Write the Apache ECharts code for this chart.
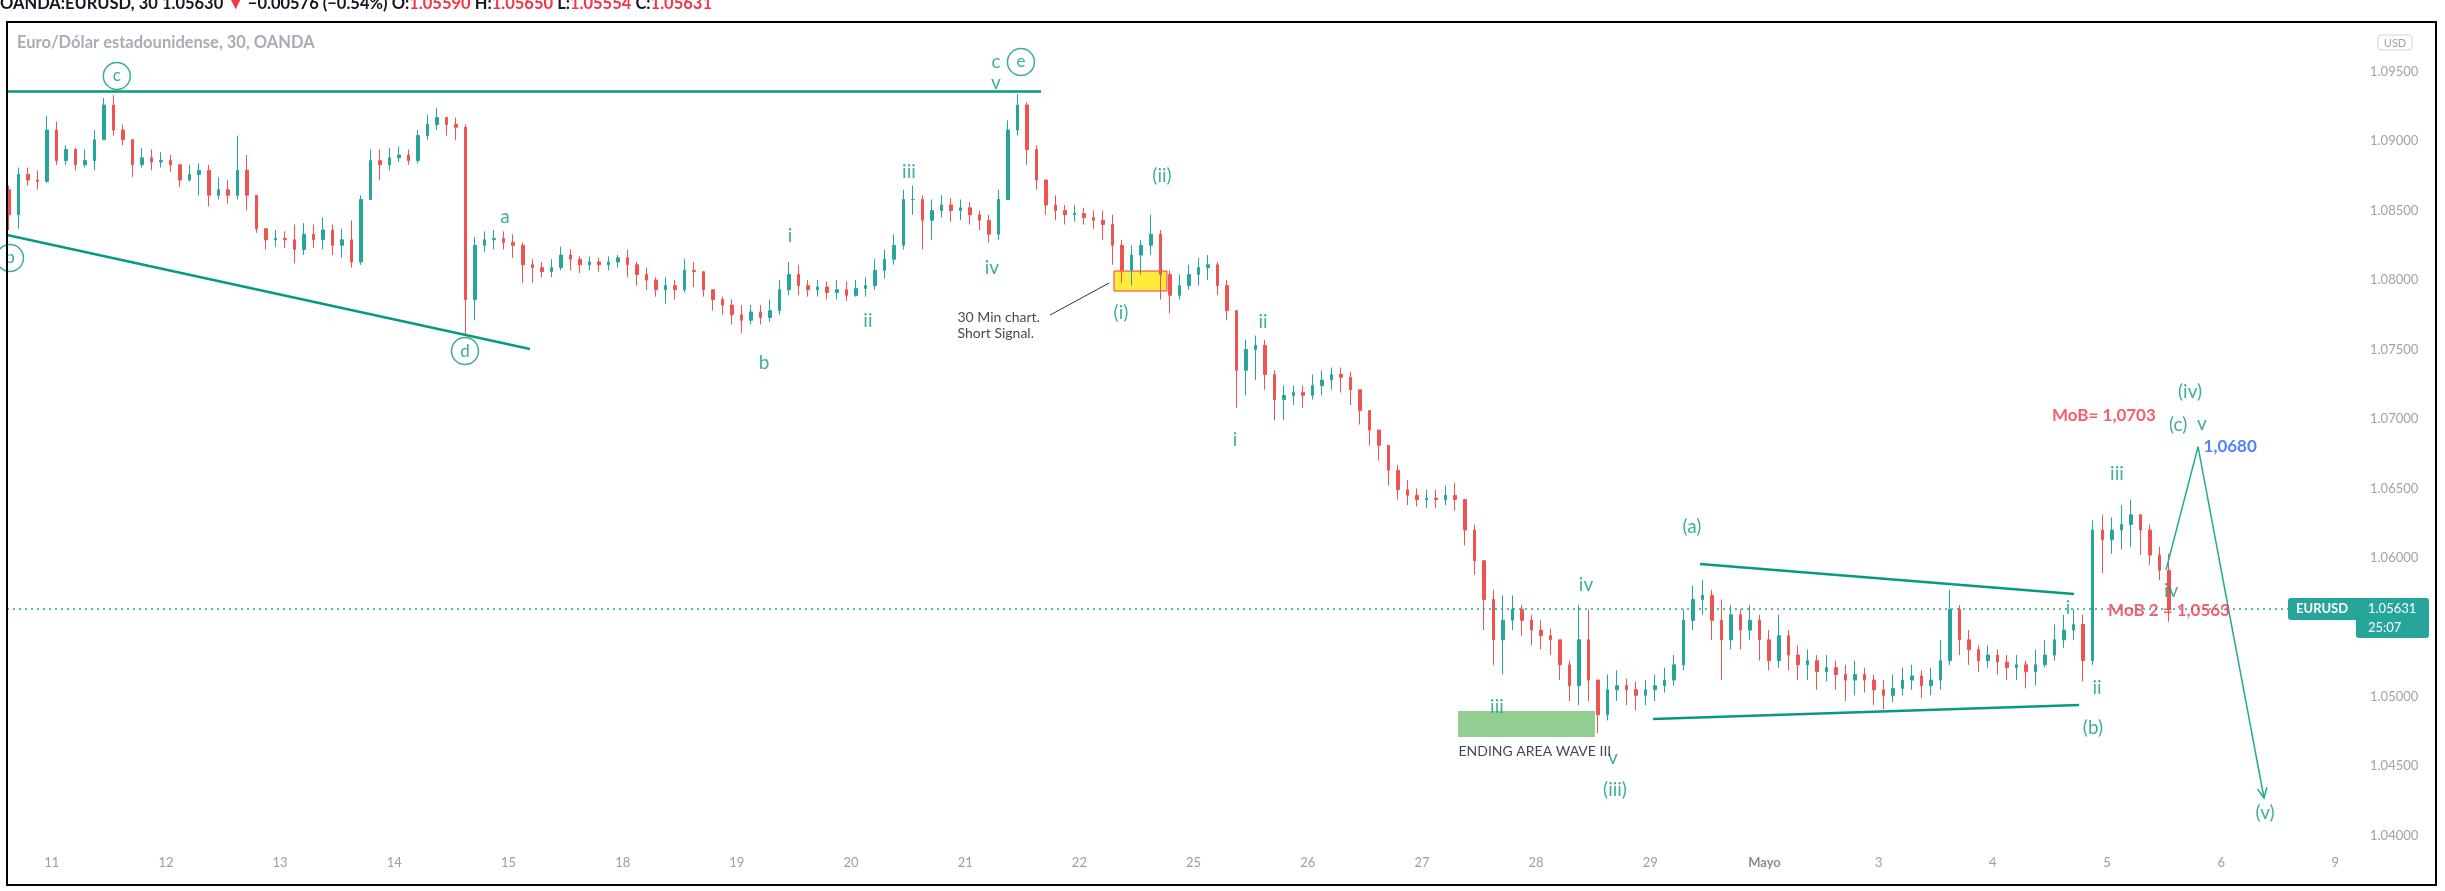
<!DOCTYPE html>
<html><head><meta charset="utf-8">
<script src="https://cdn.jsdelivr.net/npm/echarts@6/dist/echarts.min.js"></script>
<style>html,body{margin:0;padding:0;background:#fff}#c{width:2445px;height:891px}</style>
</head><body><div id="c"></div>
<script>
// ---------- DATA ----------
const dayLabels = ['11','12','13','14','15','18','19','20','21','22','25','26','27','28','29','Mayo','3','4','5','6','9'];
const priceTicks = [1.040,1.045,1.050,1.055,1.060,1.065,1.070,1.075,1.080,1.085,1.090,1.095];
const firstSlot = -5;          // 2-hour slots, 12 per trading day, slot 0 = start of "11"
const firstOpen = 1.0865;
const closes = [
 1.0847,1.0876,1.0872,1.0871,1.0908,
 1.0886,1.0894,1.0883,1.0886,1.0901,1.0926,1.0908,1.0901,1.0883,1.0888,1.0885,1.0886,
 1.0883,1.0872,1.0876,1.0879,1.0861,1.0865,1.0861,1.0879,1.0861,1.0837,1.0829,1.0830,
 1.0829,1.0822,1.0833,1.0829,1.0836,1.0825,1.0829,1.0813,1.0858,1.0886,1.0883,1.0888,
 1.0890,1.0886,1.0904,1.0912,1.0917,1.0912,1.0910,1.0786,1.0825,1.0829,1.0830,1.0827,
 1.0825,1.0811,1.0809,1.0806,1.0809,1.0818,1.0815,1.0811,1.0813,1.0811,1.0813,1.0816,
 1.0811,1.0804,1.0800,1.0793,1.0796,1.0793,1.0807,1.0806,1.0793,1.0786,1.0782,1.0775,
 1.0771,1.0777,1.0773,1.0778,1.0793,1.0804,1.0796,1.0793,1.0795,1.0791,1.0793,1.0789,
 1.0794,1.0796,1.0807,1.0815,1.0825,1.0858,1.0858,1.0843,1.0850,1.0854,1.0850,1.0852,
 1.0847,1.0843,1.0833,1.0858,1.0908,1.0926,1.0894,1.0872,1.0854,1.0850,1.0847,1.0848,
 1.0845,1.0843,1.0840,1.0825,1.0807,1.0818,1.0825,1.0833,1.0804,1.0789,1.0796,1.0804,
 1.0809,1.0811,1.0796,1.0778,1.0735,1.0750,1.0753,1.0732,1.0714,1.0717,1.0719,1.0717,
 1.0724,1.0728,1.0732,1.0730,1.0721,1.0706,1.0692,1.0681,1.0663,1.0649,1.0645,1.0642,
 1.0643,1.0642,1.0645,1.0642,1.0620,1.0598,1.0570,1.0541,1.0555,1.0563,1.0555,1.0548,
 1.0544,1.0541,1.0523,1.0508,1.0541,1.0512,1.0487,1.0505,1.0508,1.0505,1.0501,1.0505,
 1.0508,1.0512,1.0523,1.0555,1.0570,1.0573,1.0555,1.0541,1.0559,1.0548,1.0555,1.0541,
 1.0526,1.0544,1.0530,1.0523,1.0526,1.0518,1.0521,1.0516,1.0512,1.0516,1.0512,1.0505,
 1.0501,1.0506,1.0512,1.0515,1.0508,1.0512,1.0526,1.0563,1.0541,1.0534,1.0526,1.0530,
 1.0525,1.0521,1.0523,1.0518,1.0523,1.0530,1.0541,1.0548,1.0552,1.0526,1.0620,1.0613,
 1.0620,1.0624,1.0631,1.0620,1.0602,1.0591,1.05631
];
const highs = [
 1.0868,1.0881,1.0881,1.0879,1.0918,
 1.0914,1.0897,1.0895,1.0894,1.0908,1.0931,1.0933,1.0912,1.0901,1.0895,1.0894,1.0892,
 1.0890,1.0883,1.0883,1.0884,1.0883,1.0874,1.0872,1.0904,1.0890,1.0861,1.0837,1.0836,
 1.0835,1.0840,1.0841,1.0840,1.0845,1.0840,1.0837,1.0843,1.0861,1.0894,1.0894,1.0895,
 1.0896,1.0894,1.0908,1.0919,1.0924,1.0917,1.0917,1.0912,1.0831,1.0835,1.0836,1.0835,
 1.0833,1.0827,1.0815,1.0813,1.0815,1.0824,1.0822,1.0817,1.0817,1.0816,1.0817,1.0818,
 1.0822,1.0813,1.0809,1.0802,1.0802,1.0800,1.0815,1.0813,1.0805,1.0793,1.0788,1.0786,
 1.0782,1.0782,1.0782,1.0786,1.0800,1.0813,1.0811,1.0800,1.0800,1.0799,1.0800,1.0799,
 1.0800,1.0802,1.0815,1.0822,1.0833,1.0865,1.0868,1.0861,1.0858,1.0861,1.0859,1.0858,
 1.0856,1.0850,1.0847,1.0865,1.0915,1.0934,1.0928,1.0897,1.0872,1.0861,1.0854,1.0854,
 1.0852,1.0850,1.0850,1.0847,1.0829,1.0825,1.0829,1.0847,1.0836,1.0807,1.0804,1.0811,
 1.0816,1.0818,1.0813,1.0800,1.0778,1.0757,1.0760,1.0757,1.0735,1.0724,1.0724,1.0724,
 1.0732,1.0735,1.0737,1.0737,1.0734,1.0717,1.0706,1.0692,1.0681,1.0667,1.0656,1.0650,
 1.0649,1.0649,1.0652,1.0654,1.0642,1.0624,1.0598,1.0577,1.0573,1.0573,1.0566,1.0559,
 1.0555,1.0549,1.0541,1.0526,1.0566,1.0563,1.0512,1.0516,1.0519,1.0513,1.0511,1.0512,
 1.0516,1.0521,1.0530,1.0563,1.0580,1.0584,1.0577,1.0570,1.0566,1.0563,1.0566,1.0559,
 1.0548,1.0559,1.0548,1.0537,1.0534,1.0530,1.0530,1.0526,1.0523,1.0526,1.0521,1.0516,
 1.0512,1.0516,1.0521,1.0523,1.0519,1.0521,1.0541,1.0577,1.0566,1.0548,1.0537,1.0537,
 1.0534,1.0530,1.0530,1.0526,1.0534,1.0541,1.0552,1.0559,1.0563,1.0559,1.0627,1.0631,
 1.0629,1.0638,1.0642,1.0631,1.0624,1.0608,1.0603
];
const lows = [
 1.0836,1.0837,1.0868,1.0865,1.0870,
 1.0883,1.0883,1.0879,1.0881,1.0879,1.0901,1.0904,1.0897,1.0874,1.0881,1.0879,1.0881,
 1.0878,1.0867,1.0871,1.0861,1.0853,1.0858,1.0855,1.0858,1.0850,1.0834,1.0822,1.0824,
 1.0823,1.0812,1.0818,1.0823,1.0822,1.0818,1.0816,1.0809,1.0811,1.0858,1.0872,1.0879,
 1.0885,1.0883,1.0884,1.0901,1.0908,1.0904,1.0901,1.0760,1.0771,1.0820,1.0822,1.0822,
 1.0816,1.0798,1.0798,1.0802,1.0802,1.0807,1.0807,1.0805,1.0807,1.0806,1.0807,1.0809,
 1.0802,1.0796,1.0793,1.0788,1.0783,1.0786,1.0791,1.0795,1.0788,1.0778,1.0775,1.0768,
 1.0762,1.0768,1.0768,1.0770,1.0775,1.0789,1.0789,1.0788,1.0788,1.0786,1.0786,1.0785,
 1.0788,1.0788,1.0793,1.0801,1.0811,1.0822,1.0847,1.0822,1.0829,1.0845,1.0842,1.0843,
 1.0840,1.0836,1.0827,1.0829,1.0858,1.0904,1.0883,1.0865,1.0847,1.0843,1.0840,1.0842,
 1.0840,1.0837,1.0829,1.0811,1.0798,1.0796,1.0804,1.0818,1.0786,1.0776,1.0786,1.0793,
 1.0796,1.0800,1.0789,1.0771,1.0708,1.0717,1.0728,1.0721,1.0699,1.0699,1.0710,1.0708,
 1.0714,1.0717,1.0721,1.0719,1.0710,1.0696,1.0681,1.0670,1.0652,1.0642,1.0638,1.0637,
 1.0636,1.0636,1.0638,1.0634,1.0609,1.0588,1.0548,1.0523,1.0516,1.0548,1.0544,1.0537,
 1.0534,1.0530,1.0512,1.0497,1.0494,1.0497,1.0474,1.0483,1.0497,1.0494,1.0490,1.0494,
 1.0497,1.0503,1.0508,1.0519,1.0548,1.0559,1.0541,1.0512,1.0534,1.0534,1.0541,1.0526,
 1.0519,1.0521,1.0519,1.0512,1.0512,1.0505,1.0511,1.0505,1.0497,1.0501,1.0503,1.0494,
 1.0491,1.0496,1.0501,1.0505,1.0499,1.0501,1.0505,1.0523,1.0530,1.0523,1.0518,1.0521,
 1.0516,1.0512,1.0512,1.0506,1.0508,1.0521,1.0526,1.0535,1.0541,1.0511,1.0523,1.0589,
 1.0603,1.0606,1.0608,1.0602,1.0595,1.0584,1.0554
];
const lastPrice = 1.05631;

// annotations in chart coordinates [dayIndex, price, text]
const waveLabels = [
 [3.969,1.08454,'a'],[6.238,1.07403,'b'],[6.465,1.08317,'i'],[7.148,1.07705,'ii'],
 [7.507,1.08778,'iii'],[8.234,1.08087,'iv'],[8.269,1.0957,'c'],[8.269,1.09419,'v'],
 [9.723,1.08749,'(ii)'],[9.364,1.07763,'(i)'],[10.608,1.07698,'ii'],[10.363,1.06849,'i'],
 [12.657,1.04926,'iii'],[13.673,1.04559,'v'],[13.691,1.04329,'(iii)'],[13.437,1.05805,'iv'],
 [14.365,1.06222,'(a)'],[17.658,1.05639,'i'],[17.912,1.05063,'ii'],[17.877,1.04775,'(b)'],
 [18.087,1.06604,'iii'],[18.561,1.05761,'iv'],[18.727,1.07194,'(iv)'],[18.622,1.06956,'(c)'],
 [18.832,1.06963,'v'],[19.384,1.04163,'(v)']
];
const circledLabels = [[0.570,1.09469,'c'],[-0.366,1.08159,'b'],[3.619,1.07489,'d'],[8.488,1.0957,'e']];
const noteLabels = [[7.928,1.07676,'30 Min chart.\nShort Signal.'],[12.316,1.04609,'ENDING AREA WAVE III']];
const redLabels = [[17.973,1.07028,'MoB= 1,0703'],[18.543,1.05624,'MoB 2 = 1,0563']];
const blueLabels = [[18.841,1.06805,'1,0680']];
const trendLines = [
 [[-0.392,1.0936],[8.664,1.0936]],
 [[-0.392,1.08324],[4.188,1.07504]],
 [[14.435,1.05956],[17.711,1.05740]],
 [[14.024,1.04840],[17.755,1.04940]]
];
const pointerLine = [[8.743,1.07748],[9.261,1.07979]];
const projection = [[18.517,1.05913],[18.797,1.0680],[19.375,1.04271]];
const yellowBox = [[9.303,1.08065],[9.767,1.07921]];
const greenBox = [[12.316,1.04898],[13.516,1.04710]];

// ---------- CHART ----------
const X_MIN=-0.392, X_MAX=20.128;
const candles = closes.map((c,i)=>[(firstSlot+i+0.5)/12, i?closes[i-1]:firstOpen, c, lows[i], highs[i]]);
const TEAL='#26a69a', RED='#ef5350', WAVE='#0f9a82';
const FONT='Lato, "Open Sans", sans-serif';
const chart = echarts.init(document.getElementById('c'), null, {width:2445,height:891});
const lbl = (arr,style)=>arr.map(a=>({value:[a[0],a[1]],label:Object.assign({formatter:a[2]},style)}));

const option = {
 animation:false,
 backgroundColor:'#fff',
 title:[
  {text:'{b|OANDA:EURUSD, 30} {n|1.05630} {r|▼} {n|−0.00576 (−0.54%)} {b|O:}{r|1.05590} {b|H:}{r|1.05650} {b|L:}{r|1.05554} {b|C:}{r|1.05631}',
   left:0, top:-6, padding:0,
   textStyle:{fontFamily:FONT,fontSize:17,lineHeight:20,rich:{
     b:{fontWeight:'bold',color:'#131722',fontSize:16.5,fontFamily:FONT},
     n:{color:'#131722',fontSize:16.5,fontFamily:FONT},
     r:{color:'#f23645',fontSize:16.5,fontFamily:FONT}}}},
  {text:'Euro/Dólar estadounidense, 30, OANDA', left:17, top:34, padding:0,
   textStyle:{fontFamily:FONT,fontSize:16.5,fontWeight:'bold',color:'#a9acb4'}}
 ],
 grid:{left:7,top:22,width:2343,height:823,containLabel:false},
 xAxis:{type:'value',min:X_MIN,max:X_MAX,
   axisLine:{show:false},axisTick:{show:false},splitLine:{show:false},
   axisLabel:{customValues:dayLabels.map((_,i)=>i),margin:11,color:'#9a9da6',fontSize:13,fontFamily:FONT,
     formatter:v=>{const t=dayLabels[Math.round(v)];return t==='Mayo'?'{m|Mayo}':t;},
     rich:{m:{fontWeight:'bold',color:'#8a8d96',fontSize:13,fontFamily:FONT}}}},
 yAxis:{type:'value',position:'right',min:1.039327,max:1.098578,scale:true,
   axisLine:{show:false},axisTick:{show:false},splitLine:{show:false},
   axisLabel:{customValues:priceTicks,margin:20,align:'left',color:'#a0a3ab',fontSize:13,fontFamily:FONT,
     formatter:v=>v.toFixed(5)}},
 series:[
  {type:'line',data:[],z:1,silent:true,
   markArea:{silent:true,data:[
     [{coord:yellowBox[0],itemStyle:{color:'#ffeb3b',borderColor:'#f23645',borderWidth:1}},{coord:yellowBox[1]}],
     [{coord:greenBox[0],itemStyle:{color:'#92cd92',borderWidth:0}},{coord:greenBox[1]}]
   ]},
   markLine:{silent:true,symbol:['none','none'],label:{show:false},
     data:[[{coord:[X_MIN,lastPrice],lineStyle:{color:TEAL,type:[2,4],width:1.5}},{coord:[X_MAX,lastPrice]}]]}},
  {type:'candlestick',data:candles,barWidth:3,z:2,
   itemStyle:{color:TEAL,color0:RED,borderColor:TEAL,borderColor0:RED,borderWidth:1}},
  {type:'line',data:[],z:3,silent:true,
   markLine:{silent:true,symbol:['none','none'],label:{show:false},
     data:trendLines.map(l=>[{coord:l[0],lineStyle:{color:'#089981',width:2.5,type:'solid'}},{coord:l[1]}])
       .concat([[{coord:pointerLine[0],lineStyle:{color:'#333',width:1,type:'solid'}},{coord:pointerLine[1]}]])}},
  {type:'line',data:projection,z:3,symbol:'none',silent:true,lineStyle:{color:'#22ab94',width:1.5}},
  {type:'scatter',z:6,silent:true,symbol:'circle',symbolSize:27,
   itemStyle:{color:'#fff',borderColor:'#089981',borderWidth:1.5},
   data:lbl(circledLabels,{show:true,position:'inside',color:'#089981',fontSize:17,fontFamily:FONT})},
  {type:'scatter',z:6,silent:true,symbolSize:1,itemStyle:{color:'rgba(0,0,0,0)'},
   data:[].concat(
     lbl(waveLabels,{show:true,position:'inside',color:WAVE,fontSize:19,fontFamily:FONT}),
     lbl(noteLabels,{show:true,position:'right',distance:0,align:'left',color:'#131722',fontSize:14,lineHeight:16,fontFamily:FONT}),
     lbl(redLabels,{show:true,position:'inside',color:'#f23645',fontSize:17,fontWeight:'bold',fontFamily:FONT}),
     lbl(blueLabels,{show:true,position:'right',distance:0,color:'#2962ff',fontSize:17,fontWeight:'bold',fontFamily:FONT}))}
 ]
};
chart.setOption(option);

// decorations computed through the chart's own scales
const yLast = chart.convertToPixel({gridIndex:0},[0,lastPrice])[1];
const pA = chart.convertToPixel({gridIndex:0},projection[1]);
const pB = chart.convertToPixel({gridIndex:0},projection[2]);
const dx=pB[0]-pA[0], dy=pB[1]-pA[1], L=Math.hypot(dx,dy), ux=dx/L, uy=dy/L, s=11;
const ang=Math.PI/7;
const back1=[pB[0]-s*(ux*Math.cos(ang)-uy*Math.sin(ang)), pB[1]-s*(uy*Math.cos(ang)+ux*Math.sin(ang))];
const back2=[pB[0]-s*(ux*Math.cos(ang)+uy*Math.sin(ang)), pB[1]-s*(uy*Math.cos(ang)-ux*Math.sin(ang))];
chart.setOption({graphic:[
 {type:'rect',shape:{x:7,y:22,width:2429,height:863},style:{fill:'none',stroke:'#000',lineWidth:2},silent:true,z:100},
 {type:'rect',shape:{x:2378,y:35,width:34,height:15,r:3},style:{fill:'#fff',stroke:'#d1d4dc',lineWidth:1},silent:true},
 {type:'text',x:2395,y:43,style:{text:'USD',fill:'#a0a3ab',font:'11px '+FONT,align:'center',verticalAlign:'middle'},silent:true},
 {type:'polyline',shape:{points:[back1,pB,back2]},style:{stroke:'#22ab94',lineWidth:1.5,fill:'none'},silent:true,z:50},
 {type:'rect',shape:{x:2288,y:yLast-11,width:70,height:22,r:[3,0,0,3]},style:{fill:TEAL},silent:true,z:60},
 {type:'text',x:2296,y:yLast,style:{text:'EURUSD',fill:'#fff',font:'bold 13px '+FONT,verticalAlign:'middle'},silent:true,z:61},
 {type:'rect',shape:{x:2356,y:yLast-11,width:73,height:40,r:[0,3,3,3]},style:{fill:TEAL},silent:true,z:60},
 {type:'text',x:2368,y:yLast,style:{text:'1.05631',fill:'#fff',font:'13px '+FONT,verticalAlign:'middle'},silent:true,z:61},
 {type:'text',x:2368,y:yLast+19,style:{text:'25:07',fill:'#fff',font:'13px '+FONT,verticalAlign:'middle'},silent:true,z:61}
]});
</script></body></html>
